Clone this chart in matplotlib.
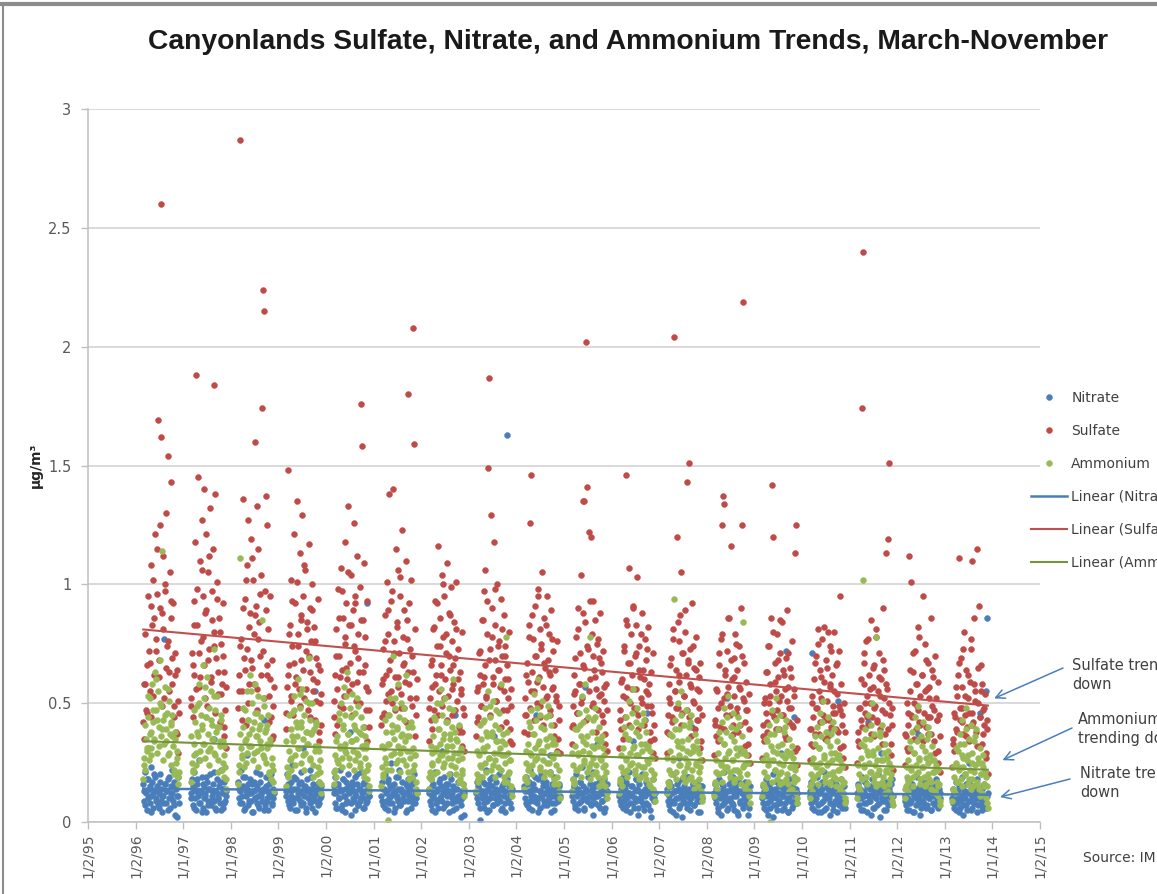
import numpy as np
import pandas as pd
import matplotlib
matplotlib.use("Agg")
import matplotlib.pyplot as plt
from matplotlib.lines import Line2D

# sampling seasons (March-November), one list of readings per year
years = list(range(1996, 2014))

nitrate = [
    [0.16, 0.09, 0.21, 0.12, 0.05, 0.18, 0.14, 0.08, 0.23, 0.11, 0.17, 0.06, 0.13, 0.19, 0.10, 0.15, 0.07, 0.12, 0.20, 0.09, 0.14, 0.04, 0.11, 0.77, 0.16, 0.08, 0.13, 0.18, 0.10, 0.06, 0.15, 0.12, 0.22, 0.09, 0.17, 0.03, 0.14, 0.11, 0.19, 0.08],
    [0.12, 0.18, 0.07, 0.14, 0.21, 0.10, 0.05, 0.16, 0.11, 0.26, 0.08, 0.13, 0.19, 0.06, 0.15, 0.10, 0.12, 0.04, 0.17, 0.09, 0.14, 0.20, 0.07, 0.11, 0.16, 0.35, 0.09, 0.13, 0.05, 0.18, 0.10, 0.15, 0.08, 0.22, 0.12, 0.06, 0.14, 0.17, 0.09, 0.13],
    [0.17, 0.10, 0.13, 0.22, 0.08, 0.15, 0.05, 0.19, 0.11, 0.14, 0.28, 0.07, 0.12, 0.18, 0.09, 0.16, 0.04, 0.13, 0.10, 0.21, 0.08, 0.15, 0.11, 0.06, 0.17, 0.12, 0.09, 0.14, 0.43, 0.07, 0.19, 0.10, 0.13, 0.05, 0.16, 0.11, 0.20, 0.08, 0.14, 0.12],
    [0.13, 0.20, 0.09, 0.15, 0.06, 0.17, 0.11, 0.24, 0.08, 0.14, 0.10, 0.18, 0.05, 0.12, 0.16, 0.09, 0.21, 0.07, 0.13, 0.31, 0.11, 0.15, 0.04, 0.18, 0.10, 0.14, 0.08, 0.12, 0.19, 0.06, 0.16, 0.11, 0.55, 0.09, 0.14, 0.07, 0.17, 0.12, 0.10, 0.15],
    [0.15, 0.08, 0.19, 0.12, 0.06, 0.16, 0.10, 0.22, 0.13, 0.07, 0.18, 0.11, 0.14, 0.04, 0.17, 0.09, 0.20, 0.12, 0.38, 0.08, 0.15, 0.10, 0.13, 0.05, 0.19, 0.11, 0.16, 0.07, 0.14, 0.09, 0.21, 0.12, 0.06, 0.17, 0.10, 0.13, 0.08, 0.92, 0.15, 0.11],
    [0.11, 0.17, 0.07, 0.14, 0.20, 0.09, 0.13, 0.05, 0.18, 0.10, 0.15, 0.25, 0.08, 0.12, 0.16, 0.06, 0.19, 0.11, 0.14, 0.09, 0.22, 0.07, 0.13, 0.17, 0.10, 0.48, 0.12, 0.04, 0.15, 0.09, 0.18, 0.11, 0.14, 0.06, 0.16, 0.10, 0.20, 0.08, 0.13, 0.12],
    [0.14, 0.09, 0.18, 0.11, 0.05, 0.16, 0.12, 0.21, 0.08, 0.13, 0.06, 0.17, 0.10, 0.15, 0.30, 0.09, 0.12, 0.19, 0.07, 0.14, 0.11, 0.16, 0.04, 0.13, 0.18, 0.08, 0.12, 0.15, 0.10, 0.45, 0.06, 0.14, 0.11, 0.17, 0.09, 0.02, 0.13, 0.10, 0.16, 0.12],
    [0.12, 0.17, 0.08, 0.14, 0.01, 0.19, 0.10, 0.13, 0.06, 0.16, 0.11, 0.22, 0.09, 0.14, 0.05, 0.18, 0.12, 0.15, 0.07, 0.36, 0.10, 0.13, 0.17, 0.08, 0.12, 0.20, 0.09, 0.14, 0.06, 0.16, 0.11, 0.13, 0.04, 0.18, 1.63, 0.10, 0.15, 0.08, 0.12, 0.14],
    [0.15, 0.10, 0.19, 0.07, 0.13, 0.17, 0.09, 0.22, 0.12, 0.05, 0.16, 0.11, 0.14, 0.45, 0.08, 0.18, 0.10, 0.13, 0.06, 0.20, 0.11, 0.15, 0.09, 0.12, 0.17, 0.07, 0.14, 0.10, 0.28, 0.13, 0.04, 0.16, 0.11, 0.19, 0.08, 0.14, 0.12, 0.09, 0.15, 0.11],
    [0.13, 0.18, 0.09, 0.15, 0.06, 0.20, 0.11, 0.14, 0.08, 0.17, 0.12, 0.23, 0.10, 0.15, 0.05, 0.57, 0.13, 0.09, 0.19, 0.11, 0.16, 0.07, 0.14, 0.10, 0.21, 0.12, 0.08, 0.15, 0.33, 0.11, 0.17, 0.06, 0.13, 0.09, 0.18, 0.12, 0.04, 0.14, 0.10, 0.16],
    [0.11, 0.16, 0.07, 0.13, 0.19, 0.09, 0.14, 0.05, 0.17, 0.10, 0.12, 0.21, 0.08, 0.15, 0.11, 0.34, 0.06, 0.13, 0.18, 0.09, 0.14, 0.03, 0.16, 0.10, 0.12, 0.20, 0.07, 0.13, 0.11, 0.17, 0.08, 0.46, 0.12, 0.15, 0.05, 0.14, 0.10, 0.18, 0.09, 0.12],
    [0.14, 0.09, 0.17, 0.11, 0.05, 0.15, 0.12, 0.20, 0.08, 0.13, 0.03, 0.16, 0.10, 0.14, 0.27, 0.07, 0.12, 0.18, 0.09, 0.15, 0.11, 0.13, 0.06, 0.19, 0.10, 0.14, 0.08, 0.12, 0.40, 0.16, 0.07, 0.13, 0.11, 0.17, 0.04, 0.14, 0.09, 0.12, 0.15, 0.10],
    [0.12, 0.16, 0.08, 0.14, 0.04, 0.18, 0.10, 0.13, 0.07, 0.15, 0.11, 0.21, 0.09, 0.13, 0.52, 0.06, 0.16, 0.10, 0.14, 0.08, 0.19, 0.12, 0.05, 0.15, 0.11, 0.13, 0.03, 0.17, 0.09, 0.30, 0.12, 0.07, 0.14, 0.10, 0.16, 0.08, 0.13, 0.11, 0.06, 0.15],
    [0.10, 0.15, 0.06, 0.13, 0.18, 0.08, 0.12, 0.03, 0.16, 0.09, 0.14, 0.11, 0.20, 0.07, 0.13, 0.10, 0.17, 0.05, 0.12, 0.15, 0.08, 0.29, 0.11, 0.14, 0.06, 0.16, 0.72, 0.10, 0.13, 0.04, 0.18, 0.09, 0.12, 0.15, 0.07, 0.44, 0.11, 0.14, 0.08, 0.12],
    [0.13, 0.08, 0.17, 0.71, 0.11, 0.05, 0.15, 0.10, 0.19, 0.07, 0.13, 0.12, 0.16, 0.04, 0.14, 0.09, 0.21, 0.11, 0.06, 0.15, 0.38, 0.10, 0.13, 0.08, 0.17, 0.12, 0.05, 0.14, 0.09, 0.16, 0.11, 0.51, 0.07, 0.13, 0.10, 0.18, 0.06, 0.12, 0.15, 0.09],
    [0.12, 0.16, 0.07, 0.14, 0.10, 0.19, 0.05, 0.13, 0.11, 0.17, 0.08, 0.15, 0.42, 0.09, 0.14, 0.03, 0.18, 0.11, 0.13, 0.06, 0.16, 0.10, 0.12, 0.20, 0.08, 0.14, 0.29, 0.10, 0.15, 0.05, 0.13, 0.09, 0.17, 0.11, 0.07, 0.14, 0.12, 0.16, 0.08, 0.11],
    [0.11, 0.07, 0.15, 0.10, 0.18, 0.05, 0.13, 0.09, 0.16, 0.12, 0.04, 0.14, 0.10, 0.19, 0.08, 0.37, 0.12, 0.15, 0.06, 0.13, 0.09, 0.17, 0.11, 0.14, 0.07, 0.12, 0.44, 0.10, 0.16, 0.05, 0.13, 0.08, 0.15, 0.11, 0.18, 0.09, 0.12, 0.06, 0.14, 0.10],
    [0.10, 0.14, 0.06, 0.12, 0.17, 0.08, 0.13, 0.04, 0.15, 0.09, 0.11, 0.19, 0.07, 0.13, 0.10, 0.16, 0.05, 0.12, 0.25, 0.09, 0.14, 0.11, 0.06, 0.15, 0.08, 0.13, 0.10, 0.18, 0.07, 0.12, 0.46, 0.09, 0.14, 0.05, 0.11, 0.16, 0.08, 0.55, 0.86, 0.12],
]

# the in-between sampling days of each season
nitrate_b = [
    [0.13, 0.07, 0.18, 0.10, 0.15, 0.04, 0.12, 0.20, 0.09, 0.14, 0.06, 0.17, 0.11, 0.08, 0.16, 0.13, 0.05, 0.19, 0.10, 0.12, 0.07, 0.15, 0.02, 0.11],
    [0.10, 0.15, 0.06, 0.13, 0.18, 0.08, 0.12, 0.04, 0.16, 0.11, 0.19, 0.07, 0.14, 0.09, 0.13, 0.21, 0.06, 0.12, 0.10, 0.17, 0.05, 0.14, 0.08, 0.11],
    [0.14, 0.08, 0.11, 0.19, 0.06, 0.13, 0.16, 0.09, 0.12, 0.04, 0.17, 0.10, 0.14, 0.07, 0.20, 0.11, 0.13, 0.05, 0.15, 0.09, 0.12, 0.18, 0.07, 0.10],
    [0.11, 0.16, 0.07, 0.13, 0.09, 0.19, 0.05, 0.14, 0.10, 0.12, 0.17, 0.08, 0.15, 0.06, 0.13, 0.10, 0.22, 0.09, 0.14, 0.04, 0.12, 0.16, 0.08, 0.11],
    [0.12, 0.06, 0.16, 0.10, 0.14, 0.05, 0.18, 0.11, 0.08, 0.15, 0.13, 0.03, 0.17, 0.09, 0.12, 0.20, 0.07, 0.14, 0.10, 0.16, 0.06, 0.13, 0.09, 0.11],
    [0.09, 0.14, 0.06, 0.12, 0.17, 0.08, 0.11, 0.15, 0.04, 0.13, 0.10, 0.19, 0.07, 0.14, 0.12, 0.09, 0.16, 0.05, 0.13, 0.11, 0.18, 0.08, 0.12, 0.10],
    [0.12, 0.07, 0.15, 0.10, 0.04, 0.14, 0.09, 0.18, 0.11, 0.06, 0.13, 0.16, 0.08, 0.12, 0.20, 0.10, 0.05, 0.14, 0.09, 0.17, 0.11, 0.07, 0.13, 0.03],
    [0.10, 0.15, 0.06, 0.12, 0.17, 0.08, 0.13, 0.04, 0.16, 0.10, 0.19, 0.07, 0.12, 0.14, 0.09, 0.11, 0.05, 0.15, 0.13, 0.08, 0.18, 0.10, 0.12, 0.06],
    [0.13, 0.08, 0.16, 0.06, 0.11, 0.14, 0.09, 0.19, 0.10, 0.04, 0.13, 0.12, 0.17, 0.07, 0.15, 0.09, 0.11, 0.21, 0.08, 0.14, 0.05, 0.12, 0.10, 0.16],
    [0.11, 0.15, 0.07, 0.13, 0.05, 0.17, 0.09, 0.12, 0.06, 0.14, 0.10, 0.19, 0.08, 0.13, 0.03, 0.16, 0.11, 0.07, 0.15, 0.12, 0.09, 0.18, 0.06, 0.13],
    [0.09, 0.14, 0.06, 0.11, 0.16, 0.07, 0.12, 0.04, 0.15, 0.08, 0.10, 0.18, 0.06, 0.13, 0.09, 0.11, 0.05, 0.14, 0.16, 0.07, 0.12, 0.02, 0.13, 0.10],
    [0.12, 0.07, 0.15, 0.09, 0.04, 0.13, 0.10, 0.17, 0.06, 0.11, 0.02, 0.14, 0.08, 0.12, 0.19, 0.05, 0.10, 0.16, 0.07, 0.13, 0.09, 0.11, 0.04, 0.15],
    [0.10, 0.14, 0.06, 0.12, 0.03, 0.16, 0.08, 0.11, 0.05, 0.13, 0.09, 0.18, 0.07, 0.11, 0.14, 0.04, 0.13, 0.08, 0.12, 0.06, 0.17, 0.10, 0.03, 0.13],
    [0.08, 0.13, 0.05, 0.11, 0.16, 0.06, 0.10, 0.02, 0.14, 0.07, 0.12, 0.09, 0.17, 0.05, 0.11, 0.08, 0.15, 0.04, 0.10, 0.13, 0.06, 0.19, 0.09, 0.12],
    [0.11, 0.06, 0.15, 0.09, 0.13, 0.04, 0.12, 0.08, 0.17, 0.05, 0.11, 0.10, 0.14, 0.03, 0.12, 0.07, 0.18, 0.09, 0.04, 0.13, 0.08, 0.11, 0.15, 0.06],
    [0.10, 0.14, 0.05, 0.12, 0.08, 0.17, 0.04, 0.11, 0.09, 0.15, 0.06, 0.13, 0.10, 0.07, 0.12, 0.02, 0.16, 0.09, 0.11, 0.05, 0.14, 0.08, 0.10, 0.18],
    [0.09, 0.05, 0.13, 0.08, 0.16, 0.04, 0.11, 0.07, 0.14, 0.10, 0.03, 0.12, 0.08, 0.17, 0.06, 0.13, 0.10, 0.05, 0.15, 0.11, 0.07, 0.14, 0.09, 0.12],
    [0.08, 0.12, 0.05, 0.10, 0.15, 0.06, 0.11, 0.03, 0.13, 0.07, 0.09, 0.17, 0.05, 0.11, 0.08, 0.14, 0.04, 0.10, 0.12, 0.07, 0.15, 0.09, 0.06, 0.11],
]

sulfate = [
    [0.42, 0.35, 0.58, 0.47, 0.66, 0.31, 0.72, 0.55, 0.91, 0.44, 0.83, 1.02, 0.62, 1.21, 0.77, 0.96, 1.69, 0.68, 1.25, 1.62, 2.60, 0.88, 1.12, 0.52, 0.97, 1.30, 0.74, 1.54, 0.63, 1.05, 0.86, 1.43, 0.58, 0.92, 0.49, 0.71, 0.38, 0.64, 0.29, 0.46],
    [0.52, 0.71, 0.44, 0.93, 0.62, 1.18, 1.88, 0.83, 1.45, 0.57, 1.10, 0.76, 1.27, 0.95, 0.66, 1.40, 0.88, 1.21, 0.49, 1.05, 0.73, 1.32, 0.61, 0.97, 1.15, 1.84, 0.80, 1.38, 0.69, 1.01, 0.54, 0.86, 0.42, 0.75, 0.58, 0.92, 0.36, 0.63, 0.47, 0.31],
    [0.48, 0.62, 2.87, 0.77, 0.55, 1.36, 0.69, 0.94, 0.41, 1.08, 0.73, 1.27, 0.58, 0.88, 1.19, 0.65, 1.02, 0.79, 1.60, 0.91, 1.33, 0.56, 1.15, 0.84, 0.70, 1.04, 1.74, 2.24, 2.15, 0.97, 1.37, 0.62, 1.25, 0.81, 0.53, 0.95, 0.44, 0.68, 0.36, 0.57],
    [0.39, 0.57, 1.48, 0.66, 0.83, 0.51, 1.02, 0.74, 0.45, 1.21, 0.92, 0.61, 1.35, 0.79, 0.56, 1.13, 0.87, 0.68, 1.29, 0.95, 0.52, 1.06, 0.72, 0.84, 0.47, 1.17, 0.63, 0.90, 0.76, 1.00, 0.55, 0.82, 0.43, 0.69, 0.59, 0.94, 0.34, 0.50, 0.64, 0.41],
    [0.44, 0.62, 0.37, 0.81, 0.56, 0.98, 0.70, 0.49, 1.07, 0.64, 0.86, 0.53, 1.18, 0.75, 0.92, 0.60, 1.33, 0.83, 0.67, 1.04, 0.58, 0.89, 1.26, 0.72, 0.95, 0.51, 1.12, 0.79, 0.63, 0.99, 1.76, 1.58, 0.85, 1.09, 0.66, 0.78, 0.47, 0.93, 0.55, 0.40],
    [0.41, 0.58, 0.73, 0.46, 0.87, 0.62, 1.01, 0.54, 0.79, 1.38, 0.68, 0.93, 0.50, 1.40, 0.76, 0.61, 1.15, 0.84, 0.57, 1.06, 0.71, 0.95, 0.48, 1.23, 0.66, 0.89, 0.59, 1.10, 0.77, 0.63, 1.80, 0.92, 0.52, 1.02, 0.70, 2.08, 1.59, 0.81, 0.45, 0.60],
    [0.34, 0.52, 0.43, 0.68, 0.57, 0.81, 0.47, 0.93, 0.62, 0.74, 1.16, 0.55, 0.86, 0.66, 1.04, 0.49, 0.78, 0.95, 0.60, 0.71, 1.09, 0.53, 0.88, 0.64, 0.99, 0.45, 0.76, 0.58, 0.84, 0.69, 1.01, 0.51, 0.73, 0.40, 0.63, 0.56, 0.80, 0.38, 0.48, 0.30],
    [0.36, 0.55, 0.44, 0.71, 0.62, 0.49, 0.85, 0.58, 0.97, 0.66, 1.06, 0.53, 0.79, 1.49, 1.87, 0.73, 1.29, 0.90, 0.61, 1.18, 0.68, 0.83, 0.51, 1.00, 0.64, 0.76, 0.57, 0.94, 0.70, 0.47, 0.87, 0.60, 0.74, 0.42, 0.66, 0.52, 0.80, 0.39, 0.56, 0.33],
    [0.38, 0.52, 0.45, 0.67, 0.59, 0.83, 0.48, 1.26, 1.46, 0.63, 0.77, 0.55, 0.91, 0.70, 0.50, 0.98, 0.61, 0.81, 0.44, 0.73, 1.05, 0.57, 0.86, 0.65, 0.52, 0.95, 0.68, 0.79, 0.47, 0.62, 0.89, 0.56, 0.72, 0.41, 0.64, 0.53, 0.76, 0.35, 0.49, 0.29],
    [0.33, 0.49, 0.41, 0.62, 0.55, 0.78, 0.46, 0.90, 0.58, 0.71, 1.04, 0.52, 1.35, 0.66, 1.35, 0.84, 2.02, 1.41, 0.73, 1.22, 0.60, 1.20, 0.79, 0.50, 0.93, 0.64, 0.85, 0.56, 0.75, 0.47, 0.69, 0.88, 0.54, 0.63, 0.42, 0.72, 0.51, 0.37, 0.58, 0.30],
    [0.31, 0.47, 0.39, 0.60, 0.53, 0.72, 0.44, 0.85, 1.46, 0.57, 0.67, 1.07, 0.50, 0.79, 0.62, 0.91, 0.48, 0.70, 0.56, 0.83, 1.03, 0.45, 0.74, 0.61, 0.52, 0.88, 0.64, 0.41, 0.77, 0.55, 0.68, 0.49, 0.82, 0.58, 0.38, 0.63, 0.46, 0.71, 0.35, 0.27],
    [0.29, 0.45, 0.37, 0.58, 0.50, 0.69, 0.42, 0.81, 2.04, 0.55, 0.64, 1.20, 0.48, 0.76, 0.59, 0.87, 1.05, 0.46, 0.71, 0.53, 0.80, 0.62, 1.43, 0.68, 1.51, 0.44, 0.73, 0.57, 0.92, 0.51, 0.65, 0.39, 0.78, 0.56, 0.43, 0.61, 0.48, 0.67, 0.34, 0.26],
    [0.28, 0.43, 0.36, 0.55, 0.48, 0.66, 0.40, 0.77, 1.25, 1.37, 1.34, 0.52, 0.62, 0.45, 0.72, 0.57, 0.86, 0.49, 1.16, 0.60, 0.41, 0.69, 0.53, 0.79, 0.46, 0.64, 0.38, 0.74, 0.56, 0.90, 1.25, 2.19, 0.51, 0.67, 0.42, 0.59, 0.47, 0.33, 0.54, 0.25],
    [0.27, 0.41, 0.34, 0.52, 0.46, 0.63, 0.38, 0.74, 0.50, 0.58, 0.86, 1.42, 1.20, 0.44, 0.67, 0.55, 0.79, 0.47, 0.61, 0.39, 0.71, 0.53, 0.84, 0.45, 0.62, 0.36, 0.69, 0.51, 0.89, 0.57, 0.42, 0.65, 0.48, 0.76, 0.40, 0.56, 1.13, 1.25, 0.31, 0.24],
    [0.26, 0.39, 0.33, 0.50, 0.44, 0.60, 0.37, 0.70, 0.48, 0.81, 0.55, 0.42, 0.64, 0.52, 0.77, 0.45, 0.59, 0.35, 0.68, 0.51, 0.80, 0.43, 0.57, 0.74, 0.40, 0.62, 0.49, 0.80, 0.46, 0.66, 0.54, 0.38, 0.72, 0.47, 0.95, 0.58, 0.41, 0.32, 0.50, 0.23],
    [0.25, 0.38, 0.32, 0.48, 0.43, 1.74, 2.40, 0.58, 0.67, 0.46, 0.76, 0.53, 0.41, 0.62, 0.50, 0.85, 0.44, 0.57, 0.36, 0.66, 0.49, 0.78, 0.42, 0.55, 0.71, 0.39, 0.60, 0.47, 0.90, 0.52, 0.64, 0.37, 1.13, 0.56, 1.19, 1.51, 0.45, 0.33, 0.48, 0.22],
    [0.24, 0.36, 0.31, 0.46, 0.41, 1.12, 0.55, 1.01, 0.44, 0.63, 0.50, 0.72, 0.39, 0.58, 0.47, 0.82, 0.42, 0.53, 0.35, 0.62, 0.95, 0.46, 0.75, 0.40, 0.56, 0.67, 0.37, 0.57, 0.44, 0.86, 0.49, 0.61, 0.34, 0.70, 0.52, 0.43, 0.59, 0.30, 0.45, 0.21],
    [0.23, 0.35, 0.30, 0.44, 0.39, 0.53, 0.62, 1.11, 0.43, 0.69, 0.48, 0.57, 0.37, 0.80, 0.45, 0.64, 0.40, 0.52, 0.34, 0.59, 0.73, 0.46, 1.10, 0.42, 0.86, 0.55, 0.38, 1.15, 0.50, 0.91, 0.44, 0.66, 0.33, 0.58, 0.47, 0.41, 0.54, 0.29, 0.43, 0.20],
]

sulfate_b = [
    [0.58, 0.79, 0.46, 0.95, 0.67, 1.08, 0.53, 0.86, 0.72, 1.15, 0.61, 0.90, 0.49, 0.81, 1.00, 0.65, 0.76, 0.55, 0.93, 0.69, 0.44, 0.62, 0.37, 0.51],
    [0.49, 0.66, 0.83, 0.56, 0.98, 0.71, 0.61, 1.06, 0.78, 0.52, 0.89, 0.68, 1.12, 0.59, 0.85, 0.74, 0.46, 0.94, 0.63, 0.80, 0.54, 0.70, 0.40, 0.57],
    [0.55, 0.74, 0.43, 0.90, 0.64, 1.02, 0.50, 0.82, 0.68, 1.11, 0.58, 0.87, 0.47, 0.77, 0.96, 0.62, 0.72, 0.52, 0.89, 0.66, 0.42, 0.60, 0.35, 0.49],
    [0.46, 0.62, 0.79, 0.53, 0.93, 0.67, 0.58, 1.01, 0.74, 0.49, 0.85, 0.64, 1.08, 0.56, 0.81, 0.70, 0.44, 0.89, 0.60, 0.76, 0.51, 0.66, 0.38, 0.54],
    [0.51, 0.70, 0.41, 0.86, 0.61, 0.97, 0.48, 0.78, 0.65, 1.05, 0.55, 0.83, 0.45, 0.74, 0.92, 0.59, 0.69, 0.50, 0.85, 0.63, 0.40, 0.57, 0.34, 0.47],
    [0.44, 0.60, 0.76, 0.51, 0.89, 0.64, 0.55, 0.97, 0.71, 0.47, 0.82, 0.61, 1.03, 0.54, 0.78, 0.67, 0.42, 0.85, 0.58, 0.73, 0.49, 0.63, 0.36, 0.52],
    [0.48, 0.66, 0.39, 0.82, 0.58, 0.92, 0.45, 0.74, 0.62, 1.00, 0.52, 0.79, 0.43, 0.70, 0.87, 0.56, 0.66, 0.47, 0.81, 0.60, 0.38, 0.54, 0.32, 0.45],
    [0.42, 0.57, 0.72, 0.49, 0.85, 0.61, 0.52, 0.93, 0.68, 0.45, 0.78, 0.58, 0.98, 0.51, 0.74, 0.64, 0.40, 0.81, 0.55, 0.70, 0.47, 0.60, 0.34, 0.49],
    [0.45, 0.62, 0.37, 0.78, 0.55, 0.87, 0.43, 0.70, 0.59, 0.95, 0.49, 0.75, 0.41, 0.67, 0.83, 0.53, 0.63, 0.45, 0.77, 0.57, 0.36, 0.51, 0.30, 0.43],
    [0.40, 0.54, 0.69, 0.46, 0.81, 0.58, 0.50, 0.88, 0.65, 0.43, 0.74, 0.55, 0.93, 0.49, 0.70, 0.61, 0.38, 0.77, 0.53, 0.67, 0.45, 0.57, 0.33, 0.47],
    [0.43, 0.59, 0.35, 0.74, 0.52, 0.83, 0.41, 0.67, 0.56, 0.90, 0.47, 0.71, 0.39, 0.64, 0.79, 0.50, 0.60, 0.43, 0.73, 0.54, 0.34, 0.49, 0.29, 0.41],
    [0.38, 0.52, 0.66, 0.44, 0.77, 0.55, 0.48, 0.84, 0.62, 0.41, 0.71, 0.53, 0.89, 0.47, 0.67, 0.58, 0.36, 0.74, 0.50, 0.64, 0.43, 0.55, 0.31, 0.45],
    [0.41, 0.56, 0.34, 0.71, 0.50, 0.79, 0.39, 0.64, 0.54, 0.86, 0.45, 0.68, 0.37, 0.61, 0.75, 0.48, 0.57, 0.41, 0.70, 0.52, 0.32, 0.47, 0.28, 0.39],
    [0.36, 0.50, 0.63, 0.42, 0.74, 0.53, 0.46, 0.80, 0.59, 0.39, 0.68, 0.51, 0.85, 0.45, 0.64, 0.56, 0.35, 0.71, 0.48, 0.61, 0.41, 0.53, 0.30, 0.43],
    [0.39, 0.53, 0.32, 0.67, 0.48, 0.75, 0.37, 0.61, 0.51, 0.82, 0.43, 0.65, 0.36, 0.58, 0.72, 0.46, 0.55, 0.39, 0.67, 0.49, 0.31, 0.45, 0.27, 0.38],
    [0.34, 0.48, 0.60, 0.40, 0.71, 0.50, 0.44, 0.77, 0.56, 0.37, 0.65, 0.48, 0.81, 0.43, 0.61, 0.53, 0.33, 0.68, 0.46, 0.58, 0.39, 0.50, 0.28, 0.41],
    [0.37, 0.50, 0.30, 0.64, 0.45, 0.71, 0.35, 0.58, 0.49, 0.78, 0.41, 0.62, 0.34, 0.55, 0.68, 0.44, 0.52, 0.37, 0.64, 0.47, 0.29, 0.43, 0.25, 0.36],
    [0.33, 0.46, 0.57, 0.38, 0.67, 0.48, 0.42, 0.73, 0.53, 0.36, 0.62, 0.46, 0.77, 0.41, 0.58, 0.51, 0.32, 0.65, 0.44, 0.55, 0.37, 0.48, 0.27, 0.39],
]

ammonium = [
    [0.18, 0.27, 0.22, 0.35, 0.30, 0.44, 0.26, 0.52, 0.38, 0.31, 0.58, 0.42, 0.34, 0.63, 0.47, 0.29, 0.55, 0.40, 0.68, 0.36, 0.49, 1.14, 0.43, 0.33, 0.57, 0.39, 0.46, 0.28, 0.51, 0.37, 0.41, 0.24, 0.45, 0.32, 0.20, 0.35, 0.25, 0.30, 0.16, 0.21],
    [0.17, 0.25, 0.21, 0.33, 0.28, 0.42, 0.24, 0.49, 0.36, 0.58, 0.30, 0.45, 0.39, 0.66, 0.33, 0.52, 0.27, 0.44, 0.61, 0.37, 0.48, 0.31, 0.55, 0.41, 0.35, 0.73, 0.29, 0.47, 0.38, 0.53, 0.26, 0.40, 0.32, 0.43, 0.22, 0.34, 0.19, 0.28, 0.23, 0.14],
    [0.16, 0.24, 1.11, 0.31, 0.27, 0.40, 0.23, 0.47, 0.35, 0.55, 0.29, 0.43, 0.37, 0.62, 0.32, 0.50, 0.26, 0.42, 0.58, 0.36, 0.46, 0.30, 0.53, 0.39, 0.34, 0.44, 0.85, 0.28, 0.49, 0.38, 0.25, 0.41, 0.31, 0.45, 0.21, 0.33, 0.18, 0.27, 0.22, 0.13],
    [0.15, 0.23, 0.19, 0.30, 0.26, 0.39, 0.22, 0.46, 0.34, 0.53, 0.28, 0.42, 0.36, 0.60, 0.31, 0.48, 0.25, 0.40, 0.56, 0.35, 0.45, 0.29, 0.51, 0.38, 0.33, 0.69, 0.27, 0.43, 0.37, 0.50, 0.24, 0.39, 0.30, 0.41, 0.20, 0.32, 0.17, 0.26, 0.21, 0.12],
    [0.16, 0.22, 0.28, 0.19, 0.36, 0.25, 0.43, 0.31, 0.50, 0.27, 0.39, 0.57, 0.33, 0.45, 0.29, 0.63, 0.37, 0.24, 0.48, 0.34, 0.54, 0.30, 0.41, 0.26, 0.46, 0.35, 0.52, 0.28, 0.38, 0.23, 0.44, 0.32, 0.40, 0.21, 0.36, 0.27, 0.31, 0.18, 0.24, 0.13],
    [0.15, 0.23, 0.19, 0.31, 0.27, 0.38, 0.22, 0.01, 0.45, 0.33, 0.52, 0.28, 0.41, 0.70, 0.35, 0.48, 0.25, 0.39, 0.58, 0.32, 0.44, 0.29, 0.50, 0.37, 0.26, 0.43, 0.34, 0.62, 0.30, 0.40, 0.21, 0.36, 0.27, 0.42, 0.19, 0.31, 0.24, 0.28, 0.17, 0.12],
    [0.14, 0.21, 0.18, 0.29, 0.25, 0.36, 0.20, 0.43, 0.31, 0.50, 0.26, 0.39, 0.33, 0.56, 0.28, 0.45, 0.23, 0.37, 0.52, 0.30, 0.42, 0.27, 0.48, 0.35, 0.24, 0.40, 0.32, 0.60, 0.29, 0.38, 0.20, 0.34, 0.26, 0.41, 0.18, 0.30, 0.22, 0.27, 0.16, 0.11],
    [0.13, 0.20, 0.17, 0.28, 0.24, 0.35, 0.19, 0.42, 0.30, 0.48, 0.25, 0.38, 0.32, 0.55, 0.27, 0.44, 0.22, 0.36, 0.51, 0.29, 0.41, 0.26, 0.47, 0.34, 0.23, 0.39, 0.31, 0.58, 0.28, 0.37, 0.19, 0.33, 0.25, 0.78, 0.17, 0.29, 0.21, 0.26, 0.15, 0.11],
    [0.14, 0.19, 0.25, 0.17, 0.33, 0.23, 0.40, 0.29, 0.47, 0.24, 0.37, 0.54, 0.31, 0.43, 0.27, 0.60, 0.34, 0.22, 0.45, 0.30, 0.51, 0.26, 0.39, 0.21, 0.44, 0.32, 0.49, 0.25, 0.36, 0.20, 0.41, 0.28, 0.35, 0.18, 0.33, 0.24, 0.29, 0.16, 0.22, 0.10],
    [0.13, 0.18, 0.24, 0.16, 0.32, 0.22, 0.39, 0.28, 0.46, 0.23, 0.36, 0.53, 0.30, 0.42, 0.26, 0.58, 0.33, 0.21, 0.44, 0.29, 0.78, 0.25, 0.38, 0.20, 0.43, 0.31, 0.48, 0.24, 0.35, 0.19, 0.40, 0.27, 0.34, 0.17, 0.31, 0.23, 0.28, 0.15, 0.21, 0.10],
    [0.12, 0.18, 0.23, 0.15, 0.31, 0.21, 0.37, 0.27, 0.44, 0.22, 0.35, 0.51, 0.29, 0.40, 0.25, 0.56, 0.32, 0.20, 0.42, 0.28, 0.48, 0.24, 0.36, 0.19, 0.41, 0.30, 0.46, 0.23, 0.33, 0.18, 0.38, 0.26, 0.32, 0.16, 0.30, 0.22, 0.27, 0.14, 0.20, 0.09],
    [0.12, 0.17, 0.22, 0.15, 0.30, 0.20, 0.36, 0.26, 0.94, 0.43, 0.21, 0.34, 0.50, 0.28, 0.39, 0.24, 0.55, 0.31, 0.19, 0.41, 0.27, 0.47, 0.23, 0.35, 0.18, 0.40, 0.29, 0.45, 0.22, 0.32, 0.17, 0.37, 0.25, 0.31, 0.15, 0.29, 0.21, 0.26, 0.13, 0.09],
    [0.11, 0.17, 0.21, 0.14, 0.29, 0.20, 0.35, 0.25, 0.42, 0.21, 0.33, 0.48, 0.27, 0.38, 0.23, 0.53, 0.30, 0.19, 0.40, 0.26, 0.46, 0.22, 0.34, 0.18, 0.39, 0.28, 0.44, 0.21, 0.31, 0.16, 0.36, 0.84, 0.24, 0.30, 0.15, 0.28, 0.20, 0.25, 0.13, 0.08],
    [0.11, 0.16, 0.21, 0.14, 0.28, 0.19, 0.34, 0.24, 0.41, 0.00, 0.32, 0.47, 0.26, 0.37, 0.22, 0.52, 0.29, 0.18, 0.39, 0.25, 0.45, 0.21, 0.33, 0.17, 0.38, 0.27, 0.43, 0.20, 0.30, 0.16, 0.35, 0.23, 0.29, 0.14, 0.27, 0.19, 0.24, 0.12, 0.18, 0.08],
    [0.10, 0.16, 0.20, 0.13, 0.27, 0.19, 0.33, 0.24, 0.40, 0.20, 0.31, 0.46, 0.25, 0.36, 0.22, 0.51, 0.28, 0.17, 0.38, 0.24, 0.44, 0.20, 0.32, 0.17, 0.37, 0.26, 0.42, 0.19, 0.29, 0.15, 0.34, 0.22, 0.28, 0.14, 0.26, 0.18, 0.23, 0.12, 0.17, 0.08],
    [0.10, 0.15, 0.20, 0.13, 0.27, 0.18, 1.02, 0.32, 0.23, 0.39, 0.19, 0.30, 0.45, 0.25, 0.35, 0.21, 0.50, 0.28, 0.17, 0.37, 0.24, 0.78, 0.20, 0.31, 0.16, 0.36, 0.26, 0.41, 0.19, 0.29, 0.15, 0.33, 0.22, 0.27, 0.13, 0.25, 0.18, 0.23, 0.11, 0.07],
    [0.10, 0.15, 0.19, 0.13, 0.26, 0.18, 0.31, 0.23, 0.38, 0.19, 0.29, 0.44, 0.24, 0.34, 0.21, 0.49, 0.27, 0.16, 0.36, 0.23, 0.42, 0.19, 0.30, 0.16, 0.35, 0.25, 0.40, 0.18, 0.28, 0.14, 0.32, 0.21, 0.26, 0.13, 0.24, 0.17, 0.22, 0.11, 0.16, 0.07],
    [0.09, 0.14, 0.19, 0.12, 0.25, 0.17, 0.30, 0.22, 0.37, 0.18, 0.28, 0.43, 0.23, 0.33, 0.20, 0.48, 0.26, 0.16, 0.35, 0.22, 0.41, 0.18, 0.29, 0.15, 0.34, 0.24, 0.39, 0.17, 0.27, 0.14, 0.31, 0.20, 0.25, 0.12, 0.23, 0.16, 0.21, 0.10, 0.15, 0.06],
]

ammonium_b = [
    [0.24, 0.41, 0.31, 0.53, 0.37, 0.28, 0.47, 0.35, 0.60, 0.43, 0.32, 0.50, 0.39, 0.26, 0.45, 0.34, 0.56, 0.29, 0.42, 0.36, 0.22, 0.38, 0.27, 0.19],
    [0.36, 0.22, 0.47, 0.29, 0.38, 0.50, 0.26, 0.41, 0.33, 0.57, 0.44, 0.30, 0.24, 0.43, 0.35, 0.53, 0.28, 0.40, 0.21, 0.34, 0.45, 0.25, 0.32, 0.18],
    [0.21, 0.37, 0.28, 0.48, 0.34, 0.25, 0.43, 0.32, 0.55, 0.39, 0.29, 0.46, 0.36, 0.23, 0.41, 0.31, 0.52, 0.27, 0.39, 0.33, 0.20, 0.35, 0.24, 0.17],
    [0.34, 0.20, 0.45, 0.27, 0.36, 0.47, 0.24, 0.40, 0.31, 0.54, 0.42, 0.28, 0.22, 0.38, 0.33, 0.50, 0.26, 0.38, 0.19, 0.32, 0.42, 0.23, 0.30, 0.16],
    [0.21, 0.34, 0.26, 0.46, 0.32, 0.23, 0.41, 0.30, 0.53, 0.37, 0.27, 0.44, 0.34, 0.22, 0.39, 0.29, 0.49, 0.25, 0.37, 0.31, 0.19, 0.33, 0.22, 0.15],
    [0.32, 0.20, 0.43, 0.25, 0.33, 0.45, 0.22, 0.38, 0.29, 0.52, 0.40, 0.26, 0.21, 0.36, 0.31, 0.48, 0.24, 0.36, 0.18, 0.30, 0.40, 0.22, 0.28, 0.14],
    [0.19, 0.32, 0.24, 0.44, 0.30, 0.21, 0.39, 0.28, 0.50, 0.35, 0.25, 0.42, 0.32, 0.20, 0.37, 0.27, 0.47, 0.23, 0.35, 0.29, 0.17, 0.31, 0.20, 0.14],
    [0.30, 0.18, 0.41, 0.23, 0.31, 0.43, 0.21, 0.36, 0.27, 0.49, 0.38, 0.24, 0.19, 0.34, 0.29, 0.46, 0.22, 0.34, 0.17, 0.28, 0.38, 0.20, 0.26, 0.13],
    [0.18, 0.30, 0.22, 0.42, 0.28, 0.20, 0.37, 0.26, 0.48, 0.33, 0.23, 0.40, 0.30, 0.19, 0.35, 0.25, 0.45, 0.21, 0.33, 0.27, 0.16, 0.29, 0.19, 0.13],
    [0.29, 0.17, 0.39, 0.22, 0.29, 0.41, 0.19, 0.34, 0.25, 0.47, 0.36, 0.23, 0.18, 0.32, 0.27, 0.44, 0.21, 0.32, 0.15, 0.26, 0.36, 0.19, 0.24, 0.12],
    [0.17, 0.28, 0.21, 0.40, 0.26, 0.19, 0.35, 0.24, 0.46, 0.31, 0.22, 0.38, 0.28, 0.18, 0.33, 0.23, 0.43, 0.20, 0.31, 0.25, 0.15, 0.27, 0.18, 0.12],
    [0.27, 0.16, 0.37, 0.20, 0.27, 0.39, 0.18, 0.32, 0.24, 0.45, 0.34, 0.21, 0.17, 0.30, 0.25, 0.42, 0.19, 0.30, 0.14, 0.24, 0.34, 0.18, 0.23, 0.11],
    [0.16, 0.26, 0.20, 0.38, 0.24, 0.17, 0.33, 0.23, 0.44, 0.29, 0.21, 0.36, 0.26, 0.17, 0.31, 0.22, 0.41, 0.19, 0.29, 0.23, 0.14, 0.25, 0.17, 0.11],
    [0.26, 0.15, 0.35, 0.19, 0.26, 0.37, 0.17, 0.30, 0.22, 0.43, 0.32, 0.20, 0.16, 0.28, 0.24, 0.40, 0.18, 0.28, 0.13, 0.23, 0.32, 0.17, 0.22, 0.10],
    [0.15, 0.25, 0.18, 0.36, 0.23, 0.16, 0.31, 0.22, 0.42, 0.27, 0.19, 0.34, 0.25, 0.16, 0.29, 0.21, 0.39, 0.18, 0.27, 0.22, 0.13, 0.24, 0.16, 0.10],
    [0.24, 0.14, 0.33, 0.18, 0.24, 0.35, 0.16, 0.28, 0.21, 0.41, 0.30, 0.19, 0.15, 0.26, 0.22, 0.38, 0.17, 0.26, 0.12, 0.21, 0.30, 0.16, 0.20, 0.09],
    [0.14, 0.23, 0.17, 0.34, 0.22, 0.15, 0.29, 0.20, 0.40, 0.26, 0.18, 0.32, 0.23, 0.15, 0.27, 0.20, 0.37, 0.17, 0.26, 0.21, 0.12, 0.22, 0.15, 0.09],
    [0.23, 0.13, 0.31, 0.17, 0.23, 0.33, 0.15, 0.27, 0.20, 0.39, 0.28, 0.18, 0.14, 0.25, 0.21, 0.36, 0.16, 0.25, 0.11, 0.20, 0.28, 0.15, 0.19, 0.08],
]

# excel linear trendline end points
trend_dates = ["1996-03-01", "2013-11-28"]
trend_nitrate = [0.14, 0.115]
trend_sulfate = [0.81, 0.49]
trend_ammonium = [0.34, 0.22]

tick_labels = ["1/2/95", "1/2/96", "1/1/97", "1/1/98", "1/2/99", "1/2/00", "1/1/01",
               "1/1/02", "1/2/03", "1/2/04", "1/1/05", "1/1/06", "1/2/07", "1/2/08",
               "1/1/09", "1/1/10", "1/2/11", "1/2/12", "1/1/13", "1/1/14", "1/2/15"]
y_ticks = [0, 0.5, 1, 1.5, 2, 2.5, 3]

BLUE = "#4A7EBB"
RED = "#BE4B48"
GREEN = "#98B954"


def flatten(series_a, series_b):
    '''puts the two sets of sampling days of each season onto real dates'''
    dates, vals = [], []
    for yr, va, vb in zip(years, series_a, series_b):
        dates.extend(pd.date_range(f"{yr}-03-01", f"{yr}-11-28", periods=len(va)))
        vals.extend(va)
        dates.extend(pd.date_range(f"{yr}-03-05", f"{yr}-11-24", periods=len(vb)))
        vals.extend(vb)
    return dates, vals


fig = plt.figure(figsize=(11.57, 8.94), dpi=100)
ax = fig.add_axes([88 / 1157, 1 - 822 / 894, (1040 - 88) / 1157, (822 - 109) / 894])

ms = 4.3
d, v = flatten(nitrate, nitrate_b)
p_nit, = ax.plot(d, v, ls="none", marker="o", ms=ms, color=BLUE, mec=BLUE, mew=0.3)
d, v = flatten(sulfate, sulfate_b)
p_sul, = ax.plot(d, v, ls="none", marker="o", ms=ms, color=RED, mec=RED, mew=0.3)
d, v = flatten(ammonium, ammonium_b)
p_amm, = ax.plot(d, v, ls="none", marker="o", ms=ms, color=GREEN, mec=GREEN, mew=0.3)

td = pd.to_datetime(trend_dates)
l_nit, = ax.plot(td, trend_nitrate, color="#4A7EBB", lw=1.8)
l_sul, = ax.plot(td, trend_sulfate, color="#C0504D", lw=1.5)
l_amm, = ax.plot(td, trend_ammonium, color="#77933C", lw=1.5)

# axes styling, excel-ish
ax.set_ylim(0, 3)
ax.set_yticks(y_ticks)
ax.set_yticklabels(["0", "0.5", "1", "1.5", "2", "2.5", "3"])
tick_pos = pd.to_datetime(tick_labels, format="%m/%d/%y")
ax.set_xlim(tick_pos[0], tick_pos[-1])
ax.set_xticks(tick_pos)
ax.set_xticklabels(tick_labels, rotation=90)
ax.grid(axis="y", color="#D0D0D0", lw=1.1)
ax.set_axisbelow(True)
for s in ["top", "right"]:
    ax.spines[s].set_visible(False)
for s in ["left", "bottom"]:
    ax.spines[s].set_color("#BFBFBF")
    ax.spines[s].set_linewidth(1.1)
ax.tick_params(axis="both", colors="#BFBFBF", length=5, width=1, labelcolor="#595959", labelsize=10)
ax.tick_params(axis="x", pad=3)
ax.tick_params(axis="y", pad=7, labelsize=10.5)

ax.set_ylabel("µg/m³", fontsize=10, fontweight="bold", color="#262626", labelpad=4)

fig.text(0.543, 0.953, "Canyonlands Sulfate, Nitrate, and Ammonium Trends, March-November",
         ha="center", va="center", fontsize=20.3, fontweight="bold", color="#1a1a1a",
         family="Liberation Sans")

leg = fig.legend([p_nit, p_sul, p_amm, l_nit, l_sul, l_amm],
                 ["Nitrate", "Sulfate", "Ammonium", "Linear (Nitrate)", "Linear (Sulfate)", "Linear (Ammonium)"],
                 loc="upper left", bbox_to_anchor=(1031 / 1157, 1 - 391 / 894), frameon=False,
                 fontsize=10, handlelength=2.6, handletextpad=0.3, labelspacing=1.36,
                 borderpad=0, borderaxespad=0, numpoints=1, labelcolor="#404040")

# callouts on the right
notes = [("Sulfate trending\ndown", 1072, 658, "2014-01-15", 0.52, 1063, 668),
         ("Ammonium\ntrending down", 1078, 712, "2014-03-20", 0.26, 1072, 728),
         ("Nitrate trending\ndown", 1080, 766, "2014-03-01", 0.105, 1070, 779)]
for txt, tx, ty, adate, aval, sx, sy in notes:
    fig.text(tx / 1157, 1 - ty / 894, txt, ha="left", va="top", fontsize=10.5,
             color="#404040", linespacing=1.3)
    ax.annotate("", xy=(pd.Timestamp(adate), aval), xycoords="data",
                xytext=(sx / 1157, 1 - sy / 894), textcoords="figure fraction",
                arrowprops=dict(arrowstyle="->", color=BLUE, lw=1.1, shrinkA=0, shrinkB=0,
                                mutation_scale=16),
                annotation_clip=False)

fig.text(1083 / 1157, 1 - 858 / 894, "Source: IMPROVE", ha="left", va="center",
         fontsize=10, color="#404040")

# screenshot frame (top and left edge)
fig.add_artist(Line2D([0, 1], [0.995, 0.995], transform=fig.transFigure, color="#8C8C8C", lw=3))
fig.add_artist(Line2D([0.003, 0.003], [0, 0.995], transform=fig.transFigure, color="#8C8C8C", lw=1.5))

fig.savefig("out.png", dpi=100)
